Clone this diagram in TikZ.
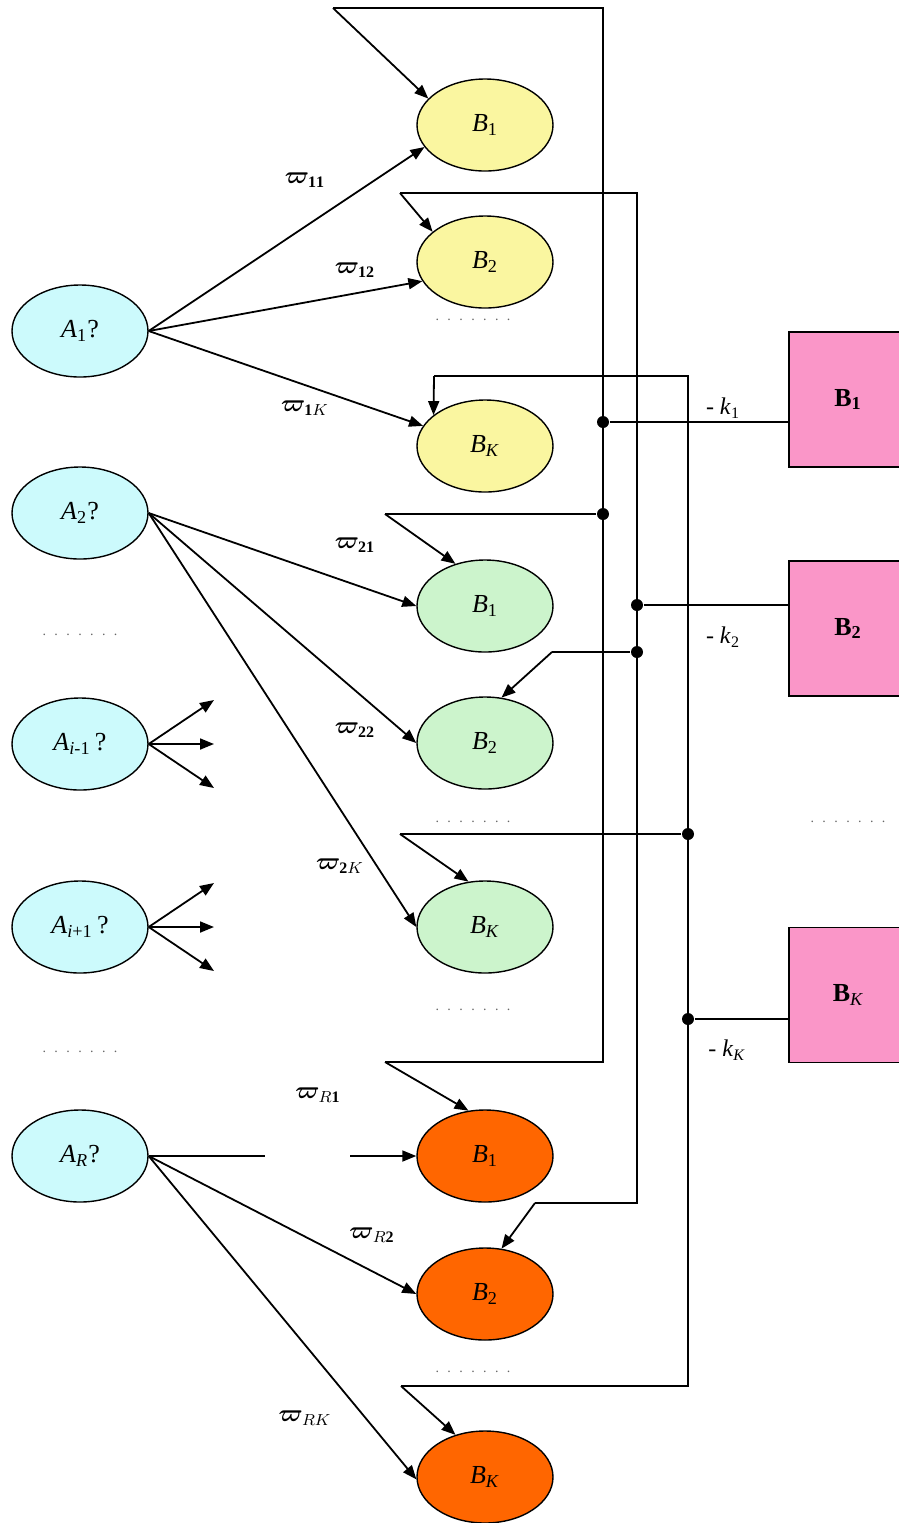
\documentclass[tikz,border=0pt]{standalone}
\usepackage{fontspec}
\setmainfont{Liberation Serif}
\usepackage{bm}
\usetikzlibrary{shapes.geometric,arrows.meta}

\definecolor{acyan}{RGB}{204,250,252}
\definecolor{byellow}{RGB}{250,246,160}
\definecolor{bgreen}{RGB}{204,244,204}
\definecolor{borange}{RGB}{255,102,0}
\definecolor{bpink}{RGB}{250,150,200}

% a row of seven small dots
\newcommand{\sevendots}{.\hspace{4.2pt}.\hspace{4.2pt}.\hspace{4.2pt}.\hspace{4.2pt}.\hspace{4.2pt}.\hspace{4.2pt}.}
% weight labels
\newcommand{\wgt}[1]{$\bm{\varpi}_{#1}$}

\begin{document}
\begin{tikzpicture}[x=0.5pt,y=-0.5pt,line width=0.9pt,
  ell/.style={ellipse,draw,line width=0.7pt,minimum width=68pt,minimum height=46pt,
    inner sep=0pt,font=\fontsize{13}{15}\selectfont},
  anode/.style={ell,fill=acyan},
  ynode/.style={ell,fill=byellow},
  gnode/.style={ell,fill=bgreen},
  onode/.style={ell,fill=borange},
  outbox/.style={rectangle,draw,line width=0.7pt,fill=bpink,minimum width=59pt,
    minimum height=67.5pt,inner sep=0pt,font=\bfseries\fontsize{13}{15}\selectfont},
  arr/.style={-{Triangle[length=7pt,width=5.5pt]}},
  junc/.style={circle,fill=black,inner sep=0pt,minimum size=6pt},
  wlab/.style={font=\fontsize{12}{14}\selectfont,inner sep=1pt},
  klab/.style={font=\fontsize{12}{14}\selectfont,inner sep=1pt},
  dotrow/.style={font=\fontsize{7}{8}\selectfont,text=black!60,inner sep=0pt}]

\clip (0,0) rectangle (899,1523);

% input nodes
\node[anode] (A1)  at (80,331)  {\textit{A}\textsubscript{1}?};
\node[anode] (A2)  at (80,513)  {\textit{A}\textsubscript{2}?};
\node[anode] (Aim) at (80,744)  {\textit{A}\textsubscript{\textit{i}-1}\,?};
\node[anode] (Aip) at (80,927)  {\textit{A}\textsubscript{\textit{i}+1}\,?};
\node[anode] (AR)  at (80,1156) {\textit{A}\textsubscript{\textit{R}}?};

% output nodes, one group per input
\node[ynode] (yB1) at (485,125)  {\textit{B}\textsubscript{1}};
\node[ynode] (yB2) at (485,262)  {\textit{B}\textsubscript{2}};
\node[ynode] (yBK) at (485,446)  {\textit{B}\textsubscript{\textit{K}}};
\node[gnode] (gB1) at (485,606)  {\textit{B}\textsubscript{1}};
\node[gnode] (gB2) at (485,743)  {\textit{B}\textsubscript{2}};
\node[gnode] (gBK) at (485,927)  {\textit{B}\textsubscript{\textit{K}}};
\node[onode] (oB1) at (485,1156) {\textit{B}\textsubscript{1}};
\node[onode] (oB2) at (485,1294) {\textit{B}\textsubscript{2}};
\node[onode] (oBK) at (485,1477) {\textit{B}\textsubscript{\textit{K}}};

% summing blocks
\node[outbox] (S1) at (848,399.5) {B\textsubscript{1}};
\node[outbox] (S2) at (848,628.5) {B\textsubscript{2}};
\node[outbox] (SK) at (848,995)   {B\textsubscript{\normalfont\itshape K}};

% weighted connections
\draw[arr] (A1.east) -- (yB1.200);
\draw[arr] (A1.east) -- (yB2.197);
\draw[arr] (A1.east) -- (yBK.162);
\draw[arr] (A2.east) -- (gB1.west);
\draw[arr] (A2.east) -- (gB2.west);
\draw[arr] (A2.east) -- (gBK.west);
\coordinate (gapL) at (265,1156);
\coordinate (gapR) at (350,1156);
\draw (AR.east) -- (gapL);
\draw[arr] (gapR) -- (oB1.west);
\draw[arr] (AR.east) -- (oB2.west);
\draw[arr] (AR.east) -- (oBK.182);

% fan-outs of the middle inputs
\coordinate (m1) at (214,700);
\coordinate (m2) at (214,744);
\coordinate (m3) at (214,788);
\coordinate (p1) at (214,883);
\coordinate (p2) at (214,927);
\coordinate (p3) at (214,971);
\foreach \t in {m1,m2,m3} \draw[arr] (Aim.east) -- (\t);
\foreach \t in {p1,p2,p3} \draw[arr] (Aip.east) -- (\t);

% feedback bus 1
\coordinate (t1) at (333,8);
\coordinate (c1a) at (603,8);
\coordinate (c1b) at (603,1062);
\coordinate (e1) at (385,1062);
\coordinate (s1) at (385,514);
\node[junc] (j1a) at (603,422) {};
\node[junc] (j1b) at (603,514) {};
\draw (t1) -- (c1a) -- (c1b) -- (e1);
\draw[arr] (t1) -- (yB1.155);
\draw (j1b) -- (s1);
\draw[arr] (s1) -- (gB1.125);
\draw[arr] (e1) -- (oB1.110);
\draw (j1a) -- (j1a -| S1.west);

% feedback bus 2
\coordinate (t2) at (400,193);
\coordinate (c2a) at (637,193);
\coordinate (c2b) at (637,1203);
\coordinate (e2) at (535,1203);
\coordinate (s2) at (552,652);
\node[junc] (j2a) at (637,605) {};
\node[junc] (j2b) at (637,652) {};
\draw (t2) -- (c2a) -- (c2b) -- (e2);
\draw[arr] (t2) -- (yB2.150);
\draw (j2b) -- (s2);
\draw[arr] (s2) -- (gB2.70);
\draw[arr] (e2) -- (oB2.70);
\draw (j2a) -- (j2a -| S2.west);

% feedback bus K
\coordinate (t3) at (434,376);
\coordinate (c3a) at (688,376);
\coordinate (c3b) at (688,1386);
\coordinate (e3) at (401,1386);
\coordinate (s3) at (400,834);
\node[junc] (j3a) at (688,834) {};
\node[junc] (j3b) at (688,1019) {};
\draw (t3) -- (c3a) -- (c3b) -- (e3);
\draw[arr] (t3) -- (yBK.149);
\draw (j3a) -- (s3);
\draw[arr] (s3) -- (gBK.110);
\draw[arr] (e3) -- (oBK.125);
\draw (j3b) -- (j3b -| SK.west);

% weight labels
\node[wlab] (w11) at (305,180)  {\wgt{\mathbf{11}}};
\node[wlab] (w12) at (355,270)  {\wgt{\mathbf{12}}};
\node[wlab] (w1K) at (305,408)  {\wgt{\mathbf{1}K}};
\node[wlab] (w21) at (355,545)  {\wgt{\mathbf{21}}};
\node[wlab] (w22) at (355,730)  {\wgt{\mathbf{22}}};
\node[wlab] (w2K) at (340,866)  {\wgt{\mathbf{2}K}};
\node[wlab] (wR1) at (318,1095) {\wgt{R\mathbf{1}}};
\node[wlab] (wR2) at (372,1235) {\wgt{R\mathbf{2}}};
\node[wlab] (wRK) at (305,1418) {\wgt{RK}};

% gain labels
\node[klab] (k1) at (723,408)  {- \textit{k}\textsubscript{1}};
\node[klab] (k2) at (723,637)  {- \textit{k}\textsubscript{2}};
\node[klab] (kK) at (727,1050) {- \textit{k}\textsubscript{\textit{K}}};

% ellipsis rows
\node[dotrow] (d1) at (80,635)   {\sevendots};
\node[dotrow] (d2) at (80,1052)  {\sevendots};
\node[dotrow] (d3) at (473,320)  {\sevendots};
\node[dotrow] (d4) at (473,822)  {\sevendots};
\node[dotrow] (d5) at (473,1010) {\sevendots};
\node[dotrow] (d6) at (473,1372) {\sevendots};
\node[dotrow] (d7) at (848,822)  {\sevendots};
\end{tikzpicture}
\end{document}
